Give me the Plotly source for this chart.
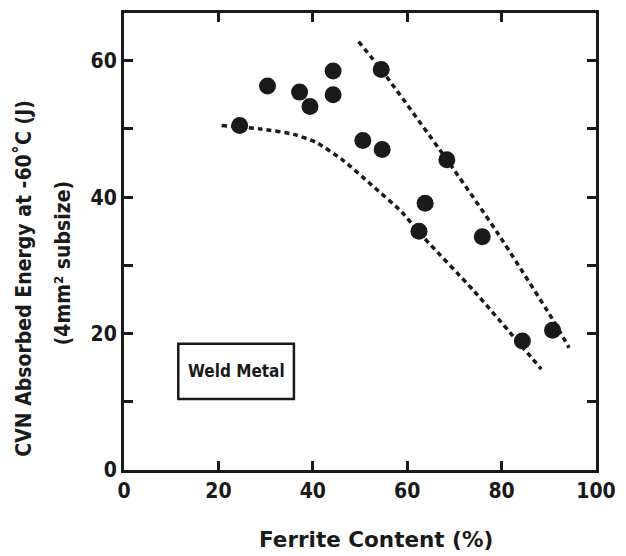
import plotly.graph_objects as go

# Data
ferrite = [24.5, 30.4, 37.2, 39.4, 44.3, 44.3, 54.5, 50.6, 54.7, 68.4, 63.8, 62.5, 75.9, 84.4, 90.8]
energy = [50.5, 56.3, 55.4, 53.3, 58.5, 55.0, 58.7, 48.3, 47.0, 45.5, 39.1, 35.0, 34.2, 18.9, 20.5]

lower_x = [20.7, 29.0, 36.0, 40.8, 46.4, 52.6, 58.9, 62.4, 74.2, 88.4]
lower_y = [50.5, 50.0, 49.2, 48.0, 45.4, 41.7, 37.8, 34.9, 26.2, 14.8]

upper_x = [49.7, 54.5, 68.4, 79.0, 90.8, 94.3]
upper_y = [62.8, 58.7, 45.5, 34.9, 22.1, 17.9]

x_ticks = [0, 20, 40, 60, 80, 100]
y_ticks = [0, 10, 20, 30, 40, 50, 60]
y_labels = ["0", "", "20", "", "40", "", "60"]

FONT = "DejaVu Sans Condensed"
INK = "#1a1a1a"

W, H = 626, 556
ML, MR, MT, MB = 124, 23, 10, 86
PW, PH = W - ML - MR, H - MT - MB


def px_to_paper(px, py):
    return (px - ML) / PW, (H - MB - py) / PH


fig = go.Figure()
fig.add_trace(go.Scatter(x=lower_x, y=lower_y, mode="lines",
                         line=dict(color=INK, width=3.5, dash="5px,4px", shape="spline", smoothing=0.6),
                         showlegend=False, hoverinfo="skip"))
fig.add_trace(go.Scatter(x=upper_x, y=upper_y, mode="lines",
                         line=dict(color=INK, width=3.5, dash="5px,4px", shape="spline", smoothing=0.6),
                         showlegend=False, hoverinfo="skip"))
fig.add_trace(go.Scatter(x=ferrite, y=energy, mode="markers",
                         marker=dict(color=INK, size=17),
                         showlegend=False))

fig.add_shape(type="rect", xref="x", yref="y", x0=11.5, x1=36.0, y0=10.4, y1=18.5,
              line=dict(color=INK, width=2.5), fillcolor="white", layer="below")
fig.add_annotation(x=23.75, y=14.45, xref="x", yref="y", text="<b>Weld Metal</b>",
                   showarrow=False, font=dict(family=FONT, size=17, color=INK))

for text, cx, cy in [("<b>CVN Absorbed Energy at -60˚C (J)</b>", 23, 277),
                     ("<b>(4mm² subsize)</b>", 62, 262)]:
    ax, ay = px_to_paper(cx, cy)
    fig.add_annotation(x=ax, y=ay, xref="paper", yref="paper", text=text,
                       xanchor="center", yanchor="middle",
                       showarrow=False, textangle=-90, font=dict(family=FONT, size=21, color=INK))

tx, ty = px_to_paper(380, 540)
fig.add_annotation(x=tx, y=ty, xref="paper", yref="paper", text="<b>Ferrite Content (%)</b>",
                   xanchor="center", yanchor="middle", showarrow=False,
                   font=dict(family="DejaVu Sans", size=21.5, color=INK))

axis_common = dict(showline=True, linecolor=INK, linewidth=3, mirror="allticks",
                   ticks="inside", ticklen=9, tickwidth=2.5, tickcolor=INK,
                   showgrid=False, zeroline=False,
                   tickfont=dict(family=FONT, size=21, color=INK, weight="bold"))

fig.update_xaxes(range=[0, 100], tickvals=x_ticks, ticktext=[str(v) for v in x_ticks], **axis_common)
fig.update_yaxes(range=[0, 67], tickvals=y_ticks, ticktext=y_labels, **axis_common)

fig.update_layout(width=W, height=H, margin=dict(l=ML, r=MR, t=MT, b=MB),
                  paper_bgcolor="white", plot_bgcolor="white")

fig.write_html("out.html")
